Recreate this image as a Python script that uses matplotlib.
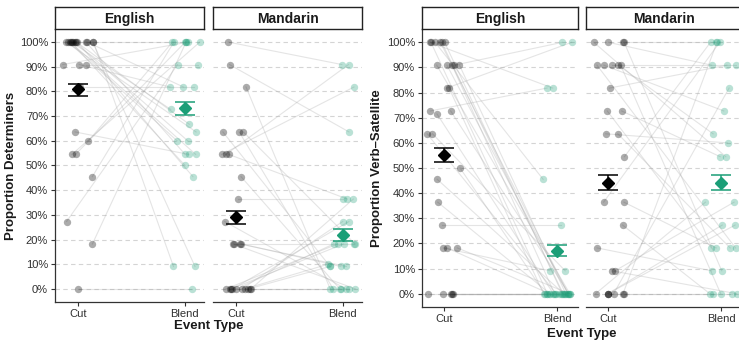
import numpy as np
import matplotlib
matplotlib.use("Agg")
import matplotlib.pyplot as plt

plt.rcParams['font.family'] = ['Liberation Sans', 'DejaVu Sans']

# ---- data (percent), one entry per participant: Cut value paired with Blend value ----
det_eng_cut = [0, 18.2, 27.3, 45.5, 54.5, 54.5, 60, 63.6, 81.8, 90.9, 90.9, 90.9,
               100, 100, 100, 100, 100, 100, 100, 100, 100, 100, 100, 100, 100]
det_eng_blend = [0, 100, 90.9, 100, 100, 100, 100, 54.5, 81.8, 100, 90.9, 81.8,
                 100, 81.8, 72.7, 66.7, 63.6, 60, 60, 54.5, 54.5, 50, 45.5, 9.1, 9.1]

det_man_cut = [100, 90.9, 81.8, 63.6, 63.6, 63.6, 54.5, 54.5, 54.5, 45.5, 36.4, 27.3, 18.2,
               18.2, 18.2, 18.2, 0, 0, 0, 0, 0, 0, 0, 0, 0, 0]
det_man_blend = [90.9, 63.6, 0, 9.1, 0, 18.2, 90.9, 81.8, 36.4, 0, 36.4, 0, 18.2,
                 9.1, 0, 9.1, 36.4, 27.3, 27.3, 18.2, 18.2, 18.2, 9.1, 10, 0, 0]

vs_eng_cut = [100, 100, 90.9, 81.8, 72.7, 27.3, 18.2, 63.6, 0,
              100, 100, 100, 100, 90.9, 90.9, 90.9, 90.9, 81.8, 72.7, 71.5, 63.6,
              50, 45.5, 36.4, 18.2, 18.2, 0, 0, 0, 0]
vs_eng_blend = [81.8, 45.5, 100, 100, 81.8, 27.3, 9.1, 9.1, 0,
                0, 0, 0, 0, 0, 0, 0, 0, 0, 0, 0, 0,
                0, 0, 0, 0, 0, 0, 0, 0, 0]

vs_man_cut = [100, 100, 100, 100, 90.9, 90.9, 90.9, 90.9, 90.9, 81.8, 72.7, 72.7, 63.6, 63.6,
              54.5, 36.4, 36.4, 27.3, 18.2, 9.1, 9.1, 0, 0, 0, 0, 0, 0, 0]
vs_man_blend = [100, 90.9, 9.1, 54.5, 90.9, 72.7, 63.6, 18.2, 0, 90.9, 54.5, 18.2, 60, 18.2,
                100, 100, 18.2, 0, 9.1, 0, 36.4, 100, 81.8, 36.4, 27.3, 27.3, 0, 0]

# means with error bar ends, order: [Cut, Blend]
det_eng_mean, det_eng_lo, det_eng_hi = [80.8, 73.2], [78.3, 70.4], [83.0, 75.8]
det_man_mean, det_man_lo, det_man_hi = [29.0, 21.9], [26.4, 19.6], [31.4, 24.3]
vs_eng_mean, vs_eng_lo, vs_eng_hi = [55.1, 16.9], [52.4, 14.9], [58.0, 19.4]
vs_man_mean, vs_man_lo, vs_man_hi = [44.2, 44.2], [41.2, 41.4], [47.1, 47.1]

event_types = ["Cut", "Blend"]
languages = ["English", "Mandarin"]

GREY_PT = "#000000"
TEAL = "#1b9e77"
W, H = 739, 343

fig = plt.figure(figsize=(W / 100, H / 100), dpi=100)


def px_axes(x0, y0, x1, y1):
    return fig.add_axes([x0 / W, 1 - y1 / H, (x1 - x0) / W, (y1 - y0) / H])


def draw_panel(box, title, cut, blend, mean, lo, hi, xlim, seed, first):
    x0, y0, x1, y1 = box
    ax = px_axes(x0, y0, x1, y1)
    rng = np.random.default_rng(seed)
    n = len(cut)
    xc = 1 + rng.uniform(-0.15, 0.15, n)
    xb = 2 + rng.uniform(-0.15, 0.15, n)

    for a, b, ya, yb in zip(xc, xb, cut, blend):
        ax.plot([a, b], [ya, yb], color="#a8a8a8", alpha=0.3, lw=0.8, zorder=2)
    ax.scatter(xc, cut, s=28, color=GREY_PT, alpha=0.33, linewidths=0, zorder=3)
    ax.scatter(xb, blend, s=28, color=TEAL, alpha=0.3, linewidths=0, zorder=3)

    for i, col in enumerate(["black", TEAL]):
        ax.errorbar([i + 1], [mean[i]], yerr=[[mean[i] - lo[i]], [hi[i] - mean[i]]],
                    fmt="none", ecolor=col, elinewidth=1.1, capsize=7.5, capthick=1.1, zorder=4)
        ax.plot([i + 1], [mean[i]], marker="D", ms=5.8, color=col, zorder=5)

    ax.set_xlim(*xlim)
    ax.set_ylim(-5.3, 105.3)
    ticks = list(range(0, 101, 10))
    ax.set_yticks(ticks)
    ax.set_yticklabels([f"{t}%" for t in ticks])
    ax.yaxis.grid(True, linestyle=(0, (4, 3)), color="#d4d4d4", lw=0.8)
    ax.set_axisbelow(True)
    ax.set_xticks([1, 2])
    ax.set_xticklabels(event_types)
    ax.tick_params(axis="both", length=3, width=0.8, color="#333333",
                   labelcolor="#303030", labelsize=8, pad=2)
    for s in ["top", "right"]:
        ax.spines[s].set_visible(False)
    ax.spines["bottom"].set_color("#333333")
    ax.spines["bottom"].set_linewidth(0.9)
    if first:
        ax.spines["left"].set_color("#333333")
        ax.spines["left"].set_linewidth(0.9)
    else:
        ax.spines["left"].set_visible(False)
        ax.tick_params(axis="y", left=False, labelleft=False)

    # strip
    st = px_axes(x0, 7, x1, 29)
    st.set_xticks([])
    st.set_yticks([])
    for s in st.spines.values():
        s.set_linewidth(1.0)
        s.set_color("#222222")
    st.text(0.5, 0.45, title, ha="center", va="center", fontsize=10,
            fontweight="bold", color="#1a1a1a", transform=st.transAxes)
    return ax


# left chart: determiners
draw_panel((55, 29, 204, 302), languages[0], det_eng_cut, det_eng_blend,
           det_eng_mean, det_eng_lo, det_eng_hi, (0.785, 2.18), 1, True)
draw_panel((213, 29, 362, 302), languages[1], det_man_cut, det_man_blend,
           det_man_mean, det_man_lo, det_man_hi, (0.785, 2.18), 2, False)
fig.text(11 / W, 1 - 166 / H, "Proportion Determiners", rotation=90, ha="center", va="center",
         fontsize=9.5, fontweight="bold", color="#1a1a1a")
fig.text(208.5 / W, 1 - 326 / H, "Event Type", ha="center", va="center",
         fontsize=9.5, fontweight="bold", color="#1a1a1a")

# right chart: verb-satellite
draw_panel((422, 29, 578, 307), languages[0], vs_eng_cut, vs_eng_blend,
           vs_eng_mean, vs_eng_lo, vs_eng_hi, (0.805, 2.186), 3, True)
draw_panel((586, 29, 742, 307), languages[1], vs_man_cut, vs_man_blend,
           vs_man_mean, vs_man_lo, vs_man_hi, (0.805, 2.186), 4, False)
fig.text(377 / W, 1 - 168 / H, "Proportion Verb\u2013Satellite", rotation=90, ha="center",
         va="center", fontsize=9.5, fontweight="bold", color="#1a1a1a")
fig.text(582 / W, 1 - 334 / H, "Event Type", ha="center", va="center",
         fontsize=9.5, fontweight="bold", color="#1a1a1a")

fig.savefig("out.png", dpi=100)
